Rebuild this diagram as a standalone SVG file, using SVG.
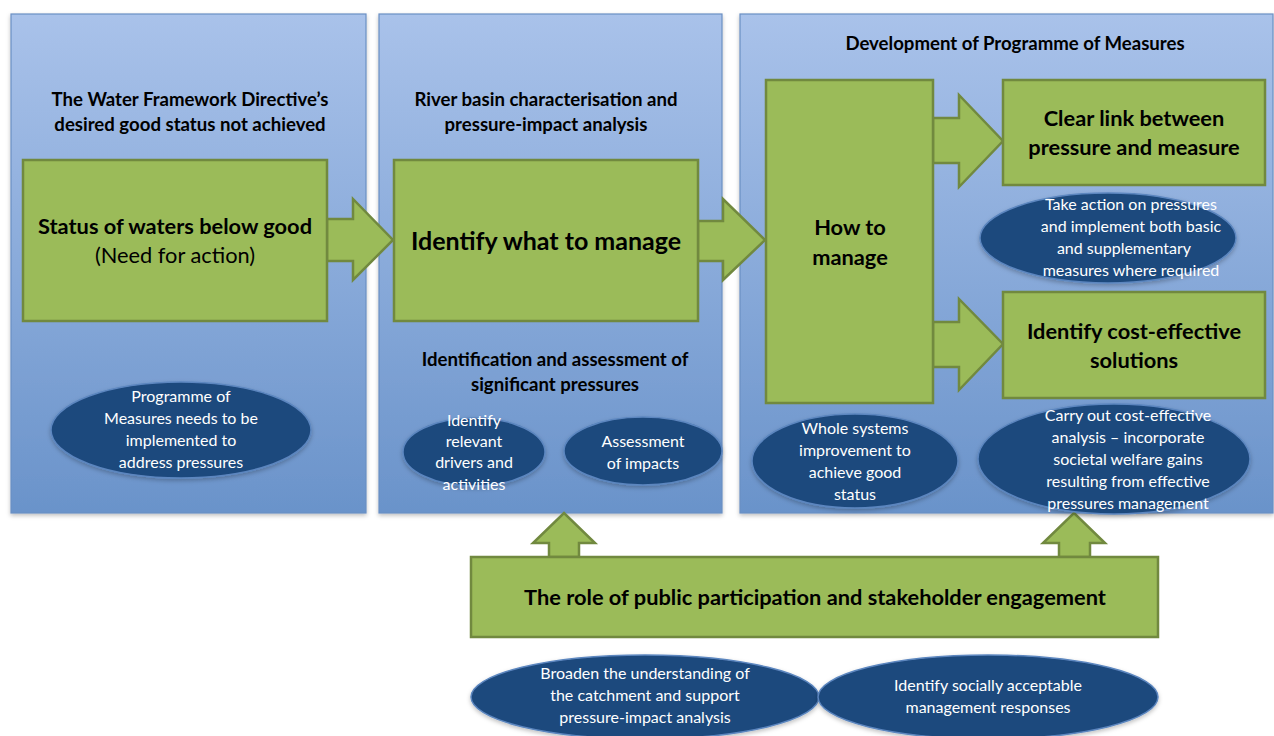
<svg xmlns="http://www.w3.org/2000/svg" width="1274" height="736" viewBox="0 0 1274 736">
  <defs>
    <linearGradient id="panelFill" x1="0" y1="0" x2="0" y2="1">
      <stop offset="0" stop-color="#a9c2ea"/>
      <stop offset="1" stop-color="#6a93ca"/>
    </linearGradient>
    <filter id="soft" x="-10%" y="-10%" width="120%" height="130%">
      <feDropShadow dx="0" dy="2" stdDeviation="2" flood-color="#000" flood-opacity="0.25"/>
    </filter>
  </defs>
  <style>
    .panel { fill: url(#panelFill); stroke: #6a8fc3; stroke-width: 1.2; filter: url(#soft); }
    .box { fill: #9bbb59; stroke: #71893f; stroke-width: 2.5; }
    .arrow { fill: #9bbb59; stroke: #71893f; stroke-width: 2.5; stroke-linejoin: miter; }
    .oval { fill: #1f497d; stroke: #5b86bf; stroke-width: 1.5; filter: url(#soft); }
    text { font-family: Lato, "Open Sans", "Liberation Sans", sans-serif; text-anchor: middle; }
    .hdr { font-size: 18.6px; font-weight: bold; fill: #000; }
    .big { font-size: 21.8px; font-weight: bold; fill: #000; }
    .reg { font-size: 21.8px; fill: #000; }
    .oval-t { font-size: 16px; fill: #fff; }
  </style>

  <!-- Column panels -->
  <g id="panel-status">
    <rect class="panel" x="11" y="14" width="355" height="499"/>
    <text class="hdr" x="190" y="106">The Water Framework Directive’s</text>
    <text class="hdr" x="190" y="131">desired good status not achieved</text>
  </g>
  <g id="panel-characterisation">
    <rect class="panel" x="379" y="14" width="343" height="499"/>
    <text class="hdr" x="546" y="106">River basin characterisation and</text>
    <text class="hdr" x="546" y="131">pressure-impact analysis</text>
    <text class="hdr" x="555" y="366">Identification and assessment of</text>
    <text class="hdr" x="555" y="391">significant pressures</text>
  </g>
  <g id="panel-programme">
    <rect class="panel" x="740" y="14" width="533" height="499"/>
    <text class="hdr" x="1015" y="50">Development of Programme of Measures</text>
  </g>

  <!-- Connectors -->
  <g id="connectors">
    <polygon class="arrow" points="327,219 353,219 353,199 393,240 353,280 353,261 327,261"/>
    <polygon class="arrow" points="698,221 723,221 723,199 765,240 723,280 723,261 698,261"/>
    <polygon class="arrow" points="933,118 959,118 959,95 1003,141 959,187 959,163 933,163"/>
    <polygon class="arrow" points="933,322 959,322 959,299 1003,344 959,390 959,367 933,367"/>
    <polygon class="arrow" points="549,557 549,543 533,543 564,513 595,543 579,543 579,557"/>
    <polygon class="arrow" points="1059,557 1059,543 1043,543 1074,513 1105,543 1090,543 1090,557"/>
  </g>

  <!-- Process boxes -->
  <g id="status-box">
    <rect class="box" x="23" y="160" width="304" height="161"/>
    <text class="big" x="175" y="234">Status of waters below good</text>
    <text class="reg" x="175" y="263">(Need for action)</text>
  </g>
  <g id="identify-box">
    <rect class="box" x="394" y="160" width="304" height="161"/>
    <text class="big" x="546" y="250" style="font-size:25px">Identify what to manage</text>
  </g>
  <g id="how-box">
    <rect class="box" x="766" y="80" width="167" height="323"/>
    <text class="big" x="850" y="235">How to</text>
    <text class="big" x="850" y="265">manage</text>
  </g>
  <g id="link-box">
    <rect class="box" x="1003" y="80" width="262" height="105"/>
    <text class="big" x="1134" y="126">Clear link between</text>
    <text class="big" x="1134" y="155">pressure and measure</text>
  </g>
  <g id="cost-box">
    <rect class="box" x="1003" y="292" width="262" height="106"/>
    <text class="big" x="1134" y="339">Identify cost-effective</text>
    <text class="big" x="1134" y="368">solutions</text>
  </g>
  <g id="participation-box">
    <rect class="box" x="471" y="557" width="687" height="80"/>
    <text class="big" x="815" y="605">The role of public participation and stakeholder engagement</text>
  </g>

  <!-- Notes -->
  <g id="note-programme">
    <ellipse class="oval" cx="181" cy="430" rx="130" ry="48"/>
    <text class="oval-t" x="181" y="402">Programme of</text>
    <text class="oval-t" x="181" y="424">Measures needs to be</text>
    <text class="oval-t" x="181" y="446">implemented to</text>
    <text class="oval-t" x="181" y="468">address pressures</text>
  </g>
  <g id="note-drivers">
    <ellipse class="oval" cx="474" cy="452" rx="71" ry="34"/>
    <text class="oval-t" x="474" y="426">Identify</text>
    <text class="oval-t" x="474" y="447">relevant</text>
    <text class="oval-t" x="474" y="468">drivers and</text>
    <text class="oval-t" x="474" y="490">activities</text>
  </g>
  <g id="note-impacts">
    <ellipse class="oval" cx="643" cy="451" rx="79" ry="34"/>
    <text class="oval-t" x="643" y="447">Assessment</text>
    <text class="oval-t" x="643" y="469">of impacts</text>
  </g>
  <g id="note-whole">
    <ellipse class="oval" cx="855" cy="461" rx="103" ry="47"/>
    <text class="oval-t" x="855" y="434">Whole systems</text>
    <text class="oval-t" x="855" y="456">improvement to</text>
    <text class="oval-t" x="855" y="478">achieve good</text>
    <text class="oval-t" x="855" y="500">status</text>
  </g>
  <g id="note-action">
    <ellipse class="oval" cx="1108" cy="238" rx="128" ry="45"/>
    <text class="oval-t" x="1131" y="210">Take action on pressures</text>
    <text class="oval-t" x="1131" y="232">and implement both basic</text>
    <text class="oval-t" x="1124" y="254">and supplementary</text>
    <text class="oval-t" x="1131" y="276">measures where required</text>
  </g>
  <g id="note-cost">
    <ellipse class="oval" cx="1114" cy="459" rx="136" ry="55"/>
    <text class="oval-t" x="1128" y="421">Carry out cost-effective</text>
    <text class="oval-t" x="1128" y="443">analysis – incorporate</text>
    <text class="oval-t" x="1128" y="465">societal welfare gains</text>
    <text class="oval-t" x="1128" y="487">resulting from effective</text>
    <text class="oval-t" x="1128" y="509">pressures management</text>
  </g>
  <g id="note-broaden">
    <ellipse class="oval" cx="645" cy="697" rx="174" ry="42"/>
    <text class="oval-t" x="645" y="679">Broaden the understanding of</text>
    <text class="oval-t" x="645" y="701">the catchment and support</text>
    <text class="oval-t" x="645" y="723">pressure-impact analysis</text>
  </g>
  <g id="note-social">
    <ellipse class="oval" cx="988" cy="697" rx="170" ry="42"/>
    <text class="oval-t" x="988" y="691">Identify socially acceptable</text>
    <text class="oval-t" x="988" y="713">management responses</text>
  </g>
</svg>
